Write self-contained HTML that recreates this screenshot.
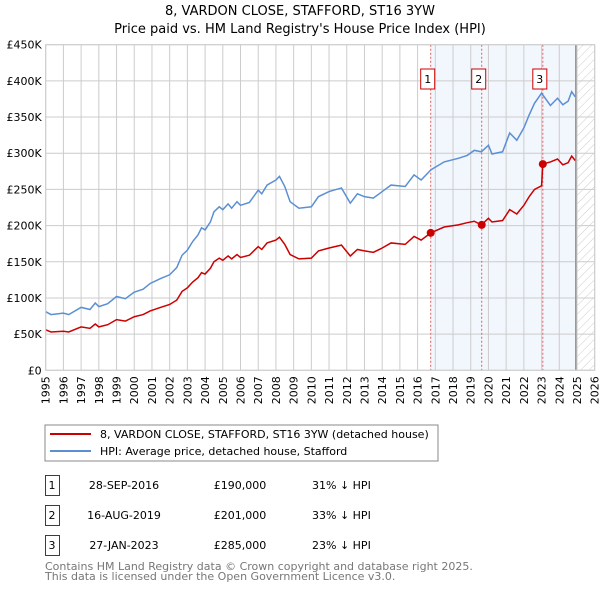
<!DOCTYPE html>
<html><head><meta charset="utf-8"><style>
body{margin:0;background:#fff;font-family:"Liberation Sans","DejaVu Sans",sans-serif;}
svg text{font-family:"DejaVu Sans","Liberation Sans",sans-serif;}
</style></head><body>
<svg id="chart" width="600" height="590" xmlns="http://www.w3.org/2000/svg">
<defs>
<pattern id="hatch" width="6" height="6" patternUnits="userSpaceOnUse" patternTransform="rotate(45)">
<line x1="0" y1="0" x2="0" y2="6" stroke="#ccc" stroke-width="1"/>
</pattern>
</defs>
<text x="300" y="15" text-anchor="middle" font-size="13">8, VARDON CLOSE, STAFFORD, ST16 3YW</text>
<text x="300" y="33" text-anchor="middle" font-size="13">Price paid vs. HM Land Registry's House Price Index (HPI)</text>
<g id="plot"></g>
<rect x="45" y="425" width="393" height="36" fill="#fff" stroke="#888"/>
<line x1="50" y1="434" x2="91" y2="434" stroke="#cc0000" stroke-width="2"/>
<text x="100" y="438" font-size="11">8, VARDON CLOSE, STAFFORD, ST16 3YW (detached house)</text>
<line x1="50" y1="451" x2="91" y2="451" stroke="#5b8fd4" stroke-width="2"/>
<text x="100" y="455" font-size="11">HPI: Average price, detached house, Stafford</text>
<g id="table" font-size="11"></g>
<text x="45" y="570" font-size="11" fill="#777">Contains HM Land Registry data © Crown copyright and database right 2025.</text>
<text x="45" y="580" font-size="11" fill="#777">This data is licensed under the Open Government Licence v3.0.</text>
</svg>
<script>
const hpiYears=[1995.0,1995.3,1996.0,1996.3,1997.0,1997.5,1997.8,1998.0,1998.5,1999.0,1999.5,2000.0,2000.5,2000.9,2001.5,2002.0,2002.4,2002.7,2003.0,2003.3,2003.6,2003.8,2004.0,2004.3,2004.5,2004.8,2005.0,2005.3,2005.5,2005.8,2006.0,2006.5,2007.0,2007.2,2007.5,2008.0,2008.2,2008.5,2008.8,2009.3,2010.0,2010.4,2011.0,2011.7,2012.2,2012.6,2013.0,2013.5,2014.0,2014.5,2015.3,2015.8,2016.2,2016.75,2017.5,2018.3,2018.8,2019.2,2019.6,2020.0,2020.2,2020.8,2021.2,2021.6,2022.0,2022.3,2022.6,2023.0,2023.5,2023.9,2024.2,2024.5,2024.7,2024.9];
const hpiValues=[81,77,79,77,87,84,93,88,92,102,99,108,112,120,127,132,142,159,166,178,187,197,194,205,219,226,222,230,224,233,228,232,249,244,256,263,268,254,233,224,226,240,247,252,231,244,240,238,247,256,254,270,263,277,288,293,297,304,302,311,299,302,328,318,335,353,369,383,366,376,367,372,385,378];
const priceYears=[1995.0,1995.3,1996.0,1996.3,1997.0,1997.5,1997.8,1998.0,1998.5,1999.0,1999.5,2000.0,2000.5,2000.9,2001.5,2002.0,2002.4,2002.7,2003.0,2003.3,2003.6,2003.8,2004.0,2004.3,2004.5,2004.8,2005.0,2005.3,2005.5,2005.8,2006.0,2006.5,2007.0,2007.2,2007.5,2008.0,2008.2,2008.5,2008.8,2009.3,2010.0,2010.4,2011.0,2011.7,2012.2,2012.6,2013.0,2013.5,2014.0,2014.5,2015.3,2015.8,2016.2,2016.75,2017.5,2018.3,2018.8,2019.2,2019.6,2020.0,2020.2,2020.8,2021.2,2021.6,2022.0,2022.3,2022.6,2023.0,2023.07,2023.5,2023.9,2024.2,2024.5,2024.7,2024.9];
const priceValues=[56,53,54,53,60,58,64,60,63,70,68,74,77,82,87,91,97,109,114,122,128,135,133,141,150,155,152,158,154,160,156,159,171,167,176,180,184,174,160,154,155,165,169,173,158,167,165,163,169,176,174,185,180,190,198,201,204,206,201,210,205,207,222,216,228,240,250,255,285,288,292,284,287,296,290];
const saleYears=[2016.74,2019.62,2023.07];
const salePrices=[190,201,285];
const saleLabels=["1","2","3"];
const saleDates=["28-SEP-2016","16-AUG-2019","27-JAN-2023"];
const salePriceText=["£190,000","£201,000","£285,000"];
const saleDiff=["31% ↓ HPI","33% ↓ HPI","23% ↓ HPI"];
const yTicks=[0,50,100,150,200,250,300,350,400,450];
const yTickLabels=["£0","£50K","£100K","£150K","£200K","£250K","£300K","£350K","£400K","£450K"];
const xTicks=[1995,1996,1997,1998,1999,2000,2001,2002,2003,2004,2005,2006,2007,2008,2009,2010,2011,2012,2013,2014,2015,2016,2017,2018,2019,2020,2021,2022,2023,2024,2025,2026];
const dataEnd=2024.93;

const NS="http://www.w3.org/2000/svg";
const X0=45.7,X1=594.7,Y0=370.3,Y1=44.7;
const xs=y=>X0+(y-1995)/(2026-1995)*(X1-X0);
const ys=v=>Y0-v/450*(Y0-Y1);
const plot=document.getElementById('plot');
function mk(tag,attrs,parent){const e=document.createElementNS(NS,tag);for(const k in attrs)e.setAttribute(k,attrs[k]);(parent||plot).appendChild(e);return e;}

let r=mk('rect',{x:xs(saleYears[0]),y:Y1,width:xs(dataEnd)-xs(saleYears[0]),height:Y0-Y1,fill:'#f2f6fd'});


r=mk('rect',{x:xs(dataEnd),y:Y1,width:X1-xs(dataEnd),height:Y0-Y1,fill:'url(#hatch)'});


xTicks.forEach(t=>{
  const l=mk('line',{x1:xs(t),x2:xs(t),y1:Y1,y2:Y0,stroke:'#ccc'});
  
  
  const tx=mk('text',{x:0,y:0,'font-size':11,'text-anchor':'end',transform:`translate(${xs(t)+4},${Y0+6}) rotate(-90)`});
  tx.textContent=t;
  
  
});
yTicks.forEach((t,i)=>{
  const l=mk('line',{x1:X0,x2:X1,y1:ys(t),y2:ys(t),stroke:'#ccc'});
  
  
  const tx=mk('text',{x:X0-4,y:ys(t)+4,'font-size':11,'text-anchor':'end'});
  tx.textContent=yTickLabels[i];
  
  
});
let ln=mk('line',{x1:xs(dataEnd),x2:xs(dataEnd),y1:Y1,y2:Y0,stroke:'#999','stroke-width':1.5});


saleYears.forEach((s,i)=>{
  const l=mk('line',{x1:xs(s),x2:xs(s),y1:Y1,y2:Y0,stroke:'#e06060','stroke-dasharray':'2,2'});
  
  
  const b=mk('rect',{x:xs(s)-10,y:69,width:14,height:20,fill:'#fff',stroke:'#cc0000'});
  
  
  const t=mk('text',{x:xs(s)-3,y:83,'font-size':11,'text-anchor':'middle'});
  t.textContent=saleLabels[i];
  
  
});
let p=mk('polyline',{points:hpiYears.map((y,i)=>xs(y)+','+ys(hpiValues[i])).join(' '),fill:'none',stroke:'#5b8fd4','stroke-width':1.5});


p=mk('polyline',{points:priceYears.map((y,i)=>xs(y)+','+ys(priceValues[i])).join(' '),fill:'none',stroke:'#cc0000','stroke-width':1.5});


saleYears.forEach((s,i)=>{
  const c=mk('circle',{cx:xs(s),cy:ys(salePrices[i]),r:4,fill:'#cc0000'});
  
  
});
let fr=mk('rect',{x:X0,y:Y1,width:X1-X0,height:Y0-Y1,fill:'none',stroke:'#ccc'});



const tbl=document.getElementById('table');
saleLabels.forEach((lab,i)=>{
  const y=475+i*30;
  const b=mk('rect',{x:45.5,y:y+0.5,width:14,height:20,fill:'#fff',stroke:'#cc0000'},tbl);
  
  
  const cells=[[52,lab,'middle','table-marker-label'],[124,saleDates[i],'middle','table-date'],[240,salePriceText[i],'middle','table-price'],[312,saleDiff[i],'start','table-hpi-diff']];
  cells.forEach(c=>{
    const t=mk('text',{x:c[0],y:y+14,'text-anchor':c[2]},tbl);
    t.textContent=c[1];
    
    
  });
});
</script>
</body></html>
